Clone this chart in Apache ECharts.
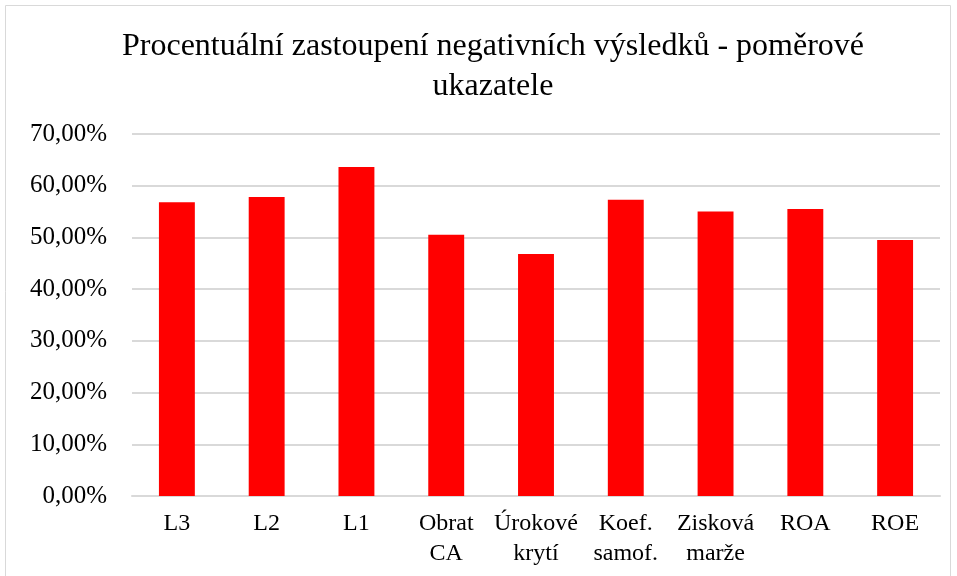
<!DOCTYPE html>
<html>
<head>
<meta charset="utf-8">
<script src="https://cdn.jsdelivr.net/npm/echarts@6/dist/echarts.min.js"></script>
<style>
  html, body { margin: 0; padding: 0; background: #fff; }
  #chart { width: 957px; height: 576px; }
</style>
</head>
<body>
<div id="chart"></div>
<script>
const categories = ['L3', 'L2', 'L1', 'Obrat\nCA', 'Úrokové\nkrytí', 'Koef.\nsamof.', 'Zisková\nmarže', 'ROA', 'ROE'];
const values = [56.8, 57.8, 63.6, 50.5, 46.8, 57.3, 55.0, 55.5, 49.5];
const titleText = 'Procentuální zastoupení negativních výsledků - poměrové\nukazatele';

const serif = '"Liberation Serif", "Times New Roman", serif';

var myChart = echarts.init(document.getElementById('chart'));
myChart.setOption({
    animation: false,
    title: {
        text: titleText,
        left: 488,
        textAlign: 'center',
        top: 22,
        textStyle: {
            fontFamily: serif,
            fontSize: 32,
            fontWeight: 'normal',
            color: '#000',
            lineHeight: 40
        }
    },
    graphic: [{
        type: 'rect',
        shape: { x: 5.5, y: 5.5, width: 945, height: 580 },
        style: { fill: 'none', stroke: '#d9d9d9', lineWidth: 1 },
        silent: true
    }],
    grid: {
        left: 132,
        right: 17,
        top: 134,
        bottom: 80
    },
    xAxis: {
        type: 'category',
        data: categories,
        axisTick: { show: false },
        axisLine: { lineStyle: { color: '#d9d9d9', width: 2 } },
        axisLabel: {
            fontFamily: serif,
            fontSize: 24,
            color: '#000',
            lineHeight: 30,
            margin: 13,
            interval: 0
        }
    },
    yAxis: {
        type: 'value',
        min: 0,
        max: 70,
        interval: 10,
        axisLine: { show: false },
        axisTick: { show: false },
        splitLine: { lineStyle: { color: '#d9d9d9', width: 2 } },
        axisLabel: {
            fontFamily: serif,
            fontSize: 25,
            color: '#000',
            margin: 25,
            formatter: function (v) {
                return v.toFixed(2).replace('.', ',') + '%';
            }
        }
    },
    series: [{
        type: 'bar',
        data: values,
        barWidth: '40%',
        itemStyle: { color: '#ff0000' }
    }]
});
</script>
</body>
</html>
